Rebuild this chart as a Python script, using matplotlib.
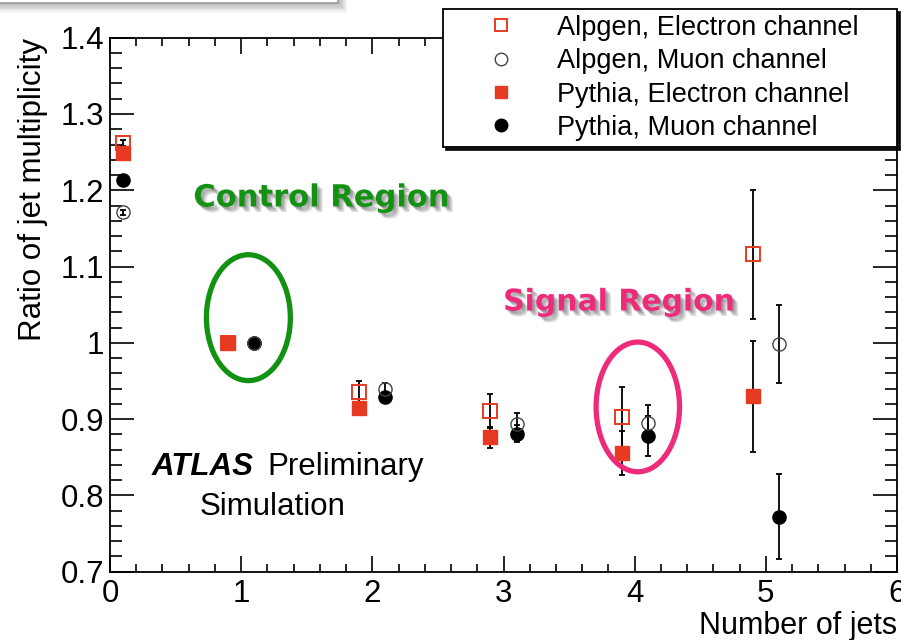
import matplotlib
matplotlib.use("Agg")
import matplotlib.pyplot as plt
import matplotlib.patheffects as pe
from matplotlib.patches import Ellipse, Rectangle
from matplotlib.lines import Line2D
from matplotlib.ticker import MultipleLocator

# Ratio of jet multiplicity per jet bin (normalised to the 1-jet bin)
n_jets = [0, 1, 2, 3, 4, 5]

alpgen_e = [1.262, 1.000, 0.936, 0.911, 0.903, 1.116]
alpgen_e_err = [0.004, 0.004, 0.014, 0.022, 0.039, 0.085]
alpgen_m = [1.171, 1.000, 0.939, 0.894, 0.895, 0.999]
alpgen_m_err = [0.003, 0.003, 0.008, 0.014, 0.024, 0.051]
pythia_e = [1.249, 1.000, 0.914, 0.876, 0.856, 0.930]
pythia_e_err = [0.004, 0.005, 0.006, 0.014, 0.029, 0.073]
pythia_m = [1.213, 1.000, 0.929, 0.881, 0.878, 0.772]
pythia_m_err = [0.003, 0.003, 0.005, 0.011, 0.026, 0.056]

labels = ["Alpgen, Electron channel", "Alpgen, Muon channel",
          "Pythia, Electron channel", "Pythia, Muon channel"]

RED = "#e63b22"
GREEN = "#139113"
PINK = "#ee2a7b"

plt.rcParams["font.family"] = ["Liberation Sans", "DejaVu Sans"]

fig = plt.figure(figsize=(9.01, 6.4), dpi=100)
ax = fig.add_axes([110 / 901, 1 - 571.7 / 640, 787 / 901, 534 / 640])

# electron and muon points are drawn side by side within each bin;
# the 0-jet bin sits at the left edge, so both channels share x = 0.1
x_e = [max(n - 0.1, 0.1) for n in n_jets]
x_m = [n + 0.1 for n in n_jets]

eb = dict(fmt="none", ecolor="black", elinewidth=1.3, capsize=2.5, capthick=1.3, zorder=2)
ax.errorbar(x_e, alpgen_e, yerr=alpgen_e_err, **eb)
ax.errorbar(x_e, pythia_e, yerr=pythia_e_err, **eb)
ax.errorbar(x_m, alpgen_m, yerr=alpgen_m_err, **eb)
ax.errorbar(x_m, pythia_m, yerr=pythia_m_err, **eb)

ax.plot(x_e, pythia_e, ls="none", marker="s", ms=10, mfc=RED, mec=RED, zorder=3)
ax.plot(x_m, pythia_m, ls="none", marker="o", ms=9.5, mfc="black", mec="black", zorder=3)
ax.plot(x_e, alpgen_e, ls="none", marker="s", ms=10, mfc="none", mec=RED, mew=1.4, zorder=4)
ax.plot(x_m, alpgen_m, ls="none", marker="o", ms=9.5, mfc="none", mec="#444444", mew=1.0, zorder=4)

ax.set_xlim(0, 6)
ax.set_ylim(0.7, 1.4)
ax.xaxis.set_major_locator(MultipleLocator(1))
ax.xaxis.set_minor_locator(MultipleLocator(0.2))
ax.yaxis.set_minor_locator(MultipleLocator(0.02))
ax.set_yticks([0.7, 0.8, 0.9, 1.0, 1.1, 1.2, 1.3, 1.4])
ax.set_yticklabels(["0.7", "0.8", "0.9", "1", "1.1", "1.2", "1.3", "1.4"])
ax.tick_params(which="both", direction="in", top=True, right=True, width=1.2, labelsize=22.5)
ax.tick_params(axis="x", which="major", length=11.5, pad=5)
ax.tick_params(axis="x", which="minor", length=5.8)
ax.tick_params(axis="y", which="major", length=17, pad=4)
ax.tick_params(axis="y", which="minor", length=8.6)
for s in ax.spines.values():
    s.set_linewidth(1.3)

ax.set_xlabel("Number of jets", fontsize=22, loc="right", labelpad=1.5)
ax.set_ylabel("Ratio of jet multiplicity", fontsize=22.5, loc="top", labelpad=9)

# Region highlights
ax.add_patch(Ellipse((1.055, 1.033), 0.64, 0.165, fill=False, ec=GREEN, lw=3.8, zorder=5))
ax.add_patch(Ellipse((4.024, 0.916), 0.636, 0.170, fill=False, ec=PINK, lw=3.8, zorder=5))

shadow = [pe.SimplePatchShadow(offset=(o, -o), shadow_rgbFace="black", alpha=0.12) for o in (1, 2, 3, 4)]
shadow.append(pe.Normal())
fig.text(321 / 901, 1 - 198 / 640, "Control Region", color=GREEN, fontsize=22,
         fontweight="bold", family=["DejaVu Sans"], ha="center", va="center",
         path_effects=shadow)
fig.text(619 / 901, 1 - 302 / 640, "Signal Region", color=PINK, fontsize=21.5,
         fontweight="bold", family=["DejaVu Sans"], ha="center", va="center",
         path_effects=shadow)

# ATLAS label
fig.text(152 / 901, 1 - 475 / 640, "ATLAS", fontsize=22.5, fontweight="bold",
         fontstyle="italic", ha="left", va="baseline")
fig.text(267 / 901, 1 - 475 / 640, "Preliminary", fontsize=22.5, ha="left", va="baseline")
fig.text(200 / 901, 1 - 515 / 640, "Simulation", fontsize=22.5, ha="left", va="baseline")

# Legend
handles = [
    Line2D([], [], ls="none", marker="s", ms=9, mfc="none", mec=RED, mew=1.4),
    Line2D([], [], ls="none", marker="o", ms=9, mfc="none", mec="#444444", mew=1.0),
    Line2D([], [], ls="none", marker="s", ms=9, mfc=RED, mec=RED),
    Line2D([], [], ls="none", marker="o", ms=9, mfc="black", mec="black"),
]
leg = fig.legend(handles, labels, loc="upper left",
                 bbox_to_anchor=(443 / 901, 1 - 145 / 640, 454 / 901, 136 / 640),
                 mode="expand", borderaxespad=0, fontsize=19.5, frameon=True,
                 fancybox=False, shadow={"color": "black", "alpha": 0.9},
                 borderpad=0.22, handlelength=3.84, handletextpad=0.15, labelspacing=0.27)
leg.get_frame().set_edgecolor("black")
leg.get_frame().set_linewidth(1.3)

# Slide box edge at the top left (display pixels, origin bottom-left)
for i in range(8):
    fig.patches.append(Rectangle((-10, 637 - 1.2 * (i + 1)), 349 + 1.0 * (i + 1), 20,
                                 transform=None, fc="black", ec="none",
                                 alpha=0.035, zorder=0))
fig.patches.append(Rectangle((-10, 637), 348, 20, transform=None,
                             fc="white", ec="#9a9a9a", lw=1.2, zorder=1))

fig.savefig("out.png", dpi=100)
